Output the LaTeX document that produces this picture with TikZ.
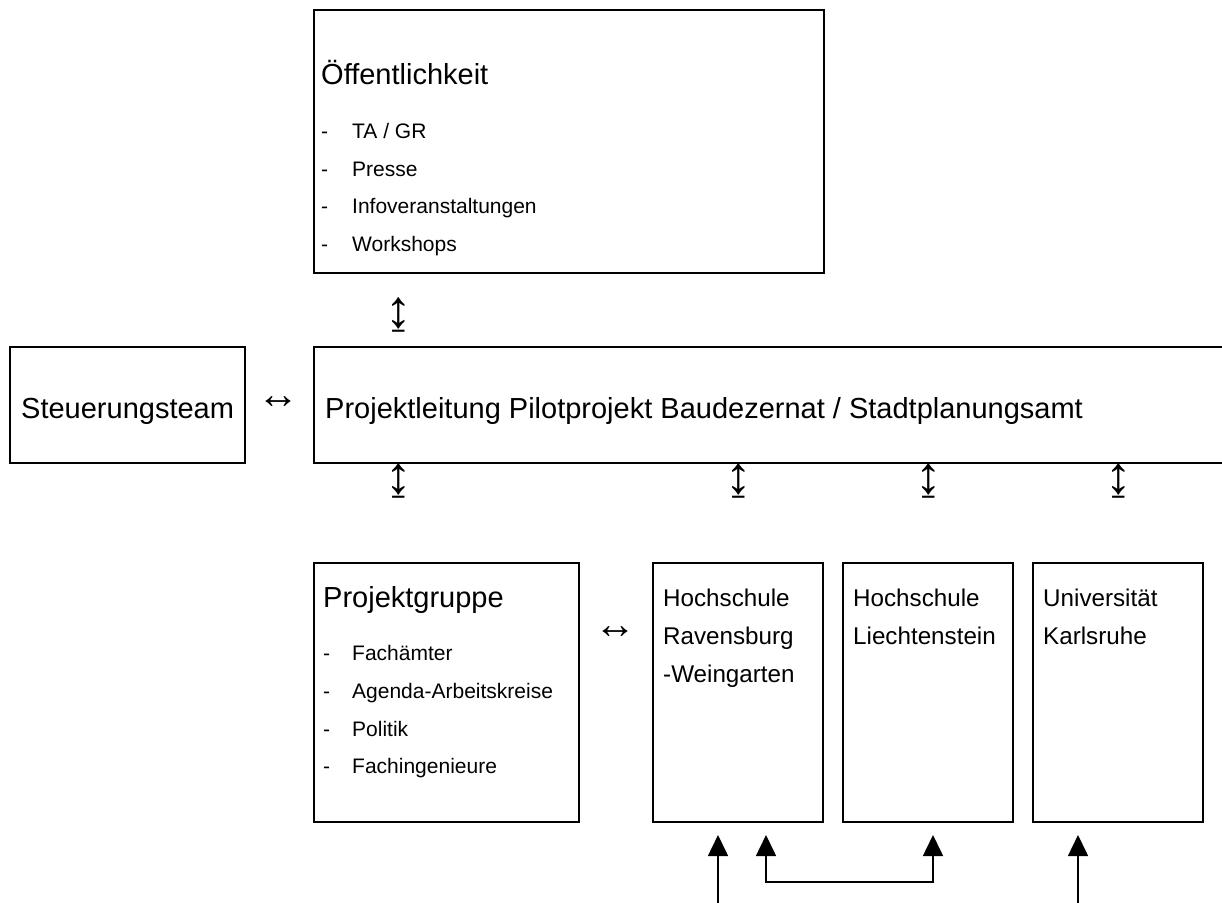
\documentclass[tikz,border=0pt]{standalone}
\usepackage{fontspec}
\setmainfont{Liberation Sans}
\usetikzlibrary{arrows.meta}
\tikzset{
  box/.style={draw=black, line width=1.8pt, fill=none, inner sep=0pt},
  big/.style={inner sep=0pt, anchor=base west, font=\fontsize{29}{34}\selectfont},
  mid/.style={inner sep=0pt, anchor=base west, font=\fontsize{24.2}{29}\selectfont},
  small/.style={inner sep=0pt, anchor=base west, font=\fontsize{21}{25}\selectfont},
  symv/.style={inner sep=0pt, anchor=center, font=\fontsize{53}{60}\selectfont},
  symh/.style={inner sep=0pt, anchor=center, font=\fontsize{42}{48}\selectfont},
  conn/.style={line width=1.6pt, -{Triangle[width=20pt,length=21pt]}},
  conn2/.style={line width=1.6pt, {Triangle[width=20pt,length=21pt]}-{Triangle[width=20pt,length=21pt]}}
}
\begin{document}
\begin{tikzpicture}[x=1pt,y=-1pt]
\useasboundingbox (0,0) rectangle (1222,902);
\clip (0,0) rectangle (1222,902);
% boxes
\node[box, minimum width=510pt, minimum height=263pt] (oef) at (569,141.5) {};
\node[box, minimum width=235pt, minimum height=116pt] (st) at (127.5,405) {};
\node[box, minimum width=940pt, minimum height=116pt] (pl) at (784,405) {};
\node[box, minimum width=265pt, minimum height=259pt] (pg) at (446.5,692.5) {};
\node[box, minimum width=170pt, minimum height=259pt] (hr) at (738,692.5) {};
\node[box, minimum width=170pt, minimum height=259pt] (hl) at (928,692.5) {};
\node[box, minimum width=170pt, minimum height=259pt] (uk) at (1118,692.5) {};
% Öffentlichkeit
\node[big] (oeft) at (321,84) {Öffentlichkeit};
\node[small] (od1) at (321,138) {-};
\node[small] (oi1) at (352,138) {TA / GR};
\node[small] (od2) at (321,176) {-};
\node[small] (oi2) at (352,176) {Presse};
\node[small] (od3) at (321,213) {-};
\node[small] (oi3) at (352,213) {Infoveranstaltungen};
\node[small] (od4) at (321,251) {-};
\node[small] (oi4) at (352,251) {Workshops};
% Steuerungsteam / Projektleitung
\node[big] (stt) at (21,418) {Steuerungsteam};
\node[big] (plt) at (325,418) {Projektleitung Pilotprojekt Baudezernat / Stadtplanungsamt};
% Projektgruppe
\node[big] (pgt) at (323,607) {Projektgruppe};
\node[small] (pd1) at (323,660) {-};
\node[small] (pi1) at (352,660) {Fachämter};
\node[small] (pd2) at (323,698) {-};
\node[small] (pi2) at (352,698) {Agenda-Arbeitskreise};
\node[small] (pd3) at (323,736) {-};
\node[small] (pi3) at (352,736) {Politik};
\node[small] (pd4) at (323,773) {-};
\node[small] (pi4) at (352,773) {Fachingenieure};
% Hochschulen
\node[mid] (hr1) at (663,606) {Hochschule};
\node[mid] (hr2) at (663,644) {Ravensburg};
\node[mid] (hr3) at (663,682) {-Weingarten};
\node[mid] (hl1) at (853,606) {Hochschule};
\node[mid] (hl2) at (853,644) {Liechtenstein};
\node[mid] (uk1) at (1043,606) {Universität};
\node[mid] (uk2) at (1043,644) {Karlsruhe};
% symbols
\node[symv] (a1) at (398.5,314.5) {↨};
\node[symv] (a2) at (398.5,481) {↨};
\node[symv] (a3) at (738.5,481) {↨};
\node[symv] (a4) at (928.5,481) {↨};
\node[symv] (a5) at (1118.5,481) {↨};
\node[symh] (b1) at (278.5,403) {↔};
\node[symh] (b2) at (615.5,633) {↔};
% bottom arrows
\coordinate (s1) at (718,905);
\coordinate (t1) at (718,835);
\coordinate (t2) at (766,835);
\coordinate (t3) at (933,835);
\coordinate (s3) at (1078,905);
\coordinate (t4) at (1078,835);
\draw[conn] (s1) -- (t1);
\draw[conn2] (t2) -- (766,882) -- (933,882) -- (t3);
\draw[conn] (s3) -- (t4);
\end{tikzpicture}
\end{document}
